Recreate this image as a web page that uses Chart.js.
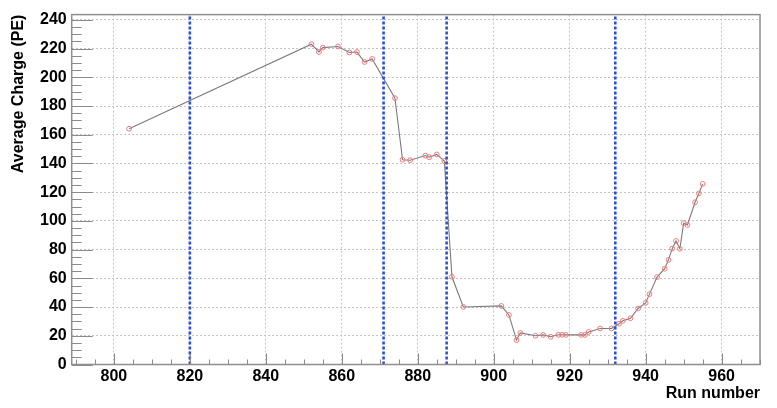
<!DOCTYPE html>
<html>
<head>
<meta charset="utf-8">
<script src="https://cdn.jsdelivr.net/npm/chart.js@4.4.1/dist/chart.umd.min.js"></script>
<style>
  html, body { margin: 0; padding: 0; background: #fff; }
</style>
</head>
<body>
<canvas id="chart" width="777" height="408"></canvas>
<script>
// run numbers and average charge
const runs = [804, 852, 854, 855, 859, 862, 864, 866, 868, 874,
  876, 878, 882, 883, 885, 887, 889, 892, 902, 904,
  906, 907, 911, 913, 915, 917, 918, 919, 923, 924,
  925, 928, 931, 933, 934, 936, 938, 940, 941, 943,
  945, 946, 947, 948, 949, 950, 951, 953, 954, 955];
const charge = [164.2, 223.1, 217.7, 220.7, 221.5, 217.3, 217.6, 210.7, 212.8, 185.5,
  142.6, 142.3, 145.5, 144.4, 146.3, 141.7, 61.1, 40.1, 40.8, 34.5,
  17.0, 22.0, 20.0, 20.6, 19.3, 20.7, 20.7, 20.6, 20.6, 20.6,
  22.7, 25.1, 25.1, 28.4, 30.4, 32.2, 39.0, 42.9, 49.0, 60.9,
  66.7, 72.9, 80.7, 86.0, 80.6, 98.4, 97.2, 113.0, 119.1, 125.8];

// blue dotted markers
const cutRuns = [820, 871, 887.6, 932];

const xTicks = [800, 820, 840, 860, 880, 900, 920, 940, 960];
const yTicks = [0, 20, 40, 60, 80, 100, 120, 140, 160, 180, 200, 220, 240];
const xRange = [788.9, 970.1];
const yRange = [0, 243.7];

const FONT = "'Liberation Sans', Arial, Helvetica, sans-serif";

/* ---------------------------------------------------
    ROOT style frame + inner ticks
---------------------------------------------------- */
const frameTicks = {
  id: "frameTicks",
  afterDraw(chart) {
    const { ctx, chartArea: a, scales: { x, y } } = chart;
    ctx.save();
    ctx.strokeStyle = "#8a8a8a";
    ctx.lineWidth = 1;
    ctx.beginPath();
    for (let v = 790; v <= 970; v += 5) {
      const px = Math.round(x.getPixelForValue(v)) + 0.5;
      const len = v % 20 === 0 ? 11 : 5;
      ctx.moveTo(px, a.bottom);
      ctx.lineTo(px, a.bottom - len);
    }
    for (let v = 0; v <= 240; v += 5) {
      const py = Math.round(y.getPixelForValue(v)) + 0.5;
      const len = v % 20 === 0 ? 21 : 10;
      ctx.moveTo(a.left, py);
      ctx.lineTo(a.left + len, py);
    }
    ctx.stroke();

    ctx.lineWidth = 1.5;
    ctx.strokeStyle = "#8f8f8f";
    ctx.strokeRect(a.left, a.top, a.right - a.left, a.bottom - a.top);
    ctx.restore();
  }
};

const points = runs.map((r, i) => ({ x: r, y: charge[i] }));

const cutSets = cutRuns.map(c => ({
  data: [{ x: c, y: yRange[0] }, { x: c, y: yRange[1] }],
  showLine: true,
  borderColor: "#2b4fd2",
  borderWidth: 2.6,
  borderDash: [3, 2],
  pointRadius: 0,
  order: 0
}));

new Chart(document.getElementById("chart"), {
  type: "scatter",
  data: {
    datasets: [
      ...cutSets,
      {
        data: points,
        showLine: true,
        borderColor: "#7a7a7a",
        borderWidth: 1.1,
        pointStyle: "circle",
        pointRadius: 2.4,
        pointBorderWidth: 1,
        pointBorderColor: "#f07a7a",
        pointBackgroundColor: "rgba(0,0,0,0)",
        order: 1
      }
    ]
  },
  options: {
    responsive: false,
    animation: false,
    layout: { padding: { top: 7.3, right: 17, left: 0, bottom: 0 } },
    plugins: { legend: { display: false }, tooltip: { enabled: false } },
    scales: {
      x: {
        type: "linear",
        min: xRange[0],
        max: xRange[1],
        afterBuildTicks: s => { s.ticks = xTicks.map(v => ({ value: v })); },
        afterFit: s => { s.height = 43.5; },
        grid: { color: "#c4c4c4", lineWidth: 1, drawTicks: false },
        border: { display: false, dash: [2, 2] },
        ticks: {
          padding: 2,
          color: "#000",
          maxRotation: 0,
          font: { family: FONT, size: 16, weight: "bold" }
        },
        title: {
          display: true,
          text: "Run number",
          align: "end",
          color: "#000",
          padding: { top: 0, bottom: 5 },
          font: { family: FONT, size: 16, weight: "bold" }
        }
      },
      y: {
        min: yRange[0],
        max: yRange[1],
        afterBuildTicks: s => { s.ticks = yTicks.map(v => ({ value: v })); },
        afterFit: s => { s.width = 71.7; },
        grid: { color: "#c4c4c4", lineWidth: 1, drawTicks: false },
        border: { display: false, dash: [2, 2] },
        ticks: {
          padding: 5,
          color: "#000",
          font: { family: FONT, size: 16, weight: "bold" }
        },
        title: {
          display: true,
          text: "Average Charge (PE)",
          align: "end",
          color: "#000",
          padding: { top: 8.5, bottom: 0 },
          font: { family: FONT, size: 16, weight: "bold" }
        }
      }
    }
  },
  plugins: [frameTicks]
});
</script>
</body>
</html>
